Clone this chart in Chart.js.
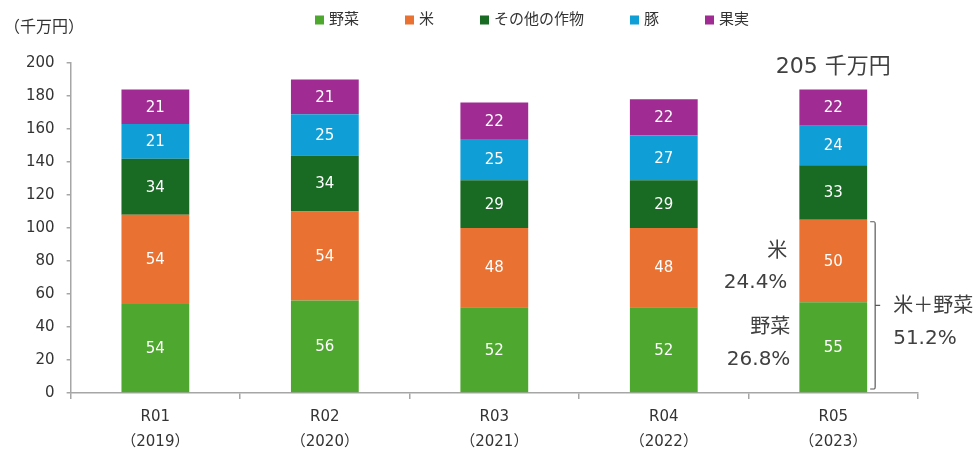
<!DOCTYPE html>
<html>
<head>
<meta charset="utf-8">
<script src="https://cdn.jsdelivr.net/npm/chart.js@4"></script>
<style>
  body { margin: 0; background: #fff; }
  #wrap { width: 975px; height: 450px; }
</style>
</head>
<body>
<div id="wrap"><canvas id="crops"></canvas></div>
<script>
const FONT = "'DejaVu Sans', 'Noto Sans CJK JP', sans-serif";

const categories = [["R01", "（2019）"], ["R02", "（2020）"], ["R03", "（2021）"], ["R04", "（2022）"], ["R05", "（2023）"]];
const vegetables = [54, 56, 52, 52, 55];
const rice = [54, 54, 48, 48, 50];
const otherCrops = [34, 34, 29, 29, 33];
const pork = [21, 25, 25, 27, 24];
const fruit = [21, 21, 22, 22, 22];

const seriesNames = ["野菜", "米", "その他の作物", "豚", "果実"];
const seriesColors = ["#4EA72E", "#E97132", "#196B24", "#0F9ED5", "#A02B93"];
const seriesValues = [vegetables, rice, otherCrops, pork, fruit];

// legend row at the top (drawn by hand so it sits close to the edge)
const topLegend = {
  id: "topLegend",
  afterDraw(chart) {
    const c = chart.ctx;
    c.save();
    c.font = "15px " + FONT;
    c.textBaseline = "middle";
    const box = 9, gap = 46, y = 20;
    const items = chart.data.datasets.map(ds => ({
      ds, w: box + 5 + c.measureText(ds.label).width
    }));
    let total = items.reduce((s, it) => s + it.w, 0) + gap * (items.length - 1);
    let x = 532 - total / 2;
    items.forEach(it => {
      c.fillStyle = it.ds.backgroundColor;
      c.fillRect(x, y - box / 2, box, box);
      c.fillStyle = "#333";
      c.fillText(it.ds.label, x + box + 5, y);
      x += it.w + gap;
    });
    c.restore();
  }
};

// white numbers inside each segment
const segmentLabels = {
  id: "segmentLabels",
  afterDatasetsDraw(chart) {
    const c = chart.ctx;
    c.save();
    c.fillStyle = "#fff";
    c.font = "15px " + FONT;
    c.textAlign = "center";
    c.textBaseline = "middle";
    chart.data.datasets.forEach((ds, i) => {
      chart.getDatasetMeta(i).data.forEach((bar, j) => {
        const mid = (bar.y + bar.base) / 2;
        c.fillText(ds.data[j], bar.x, mid + 1);
      });
    });
    c.restore();
  }
};

// unit, total and share notes
const notes = {
  id: "notes",
  afterDraw(chart) {
    const c = chart.ctx;
    const y = chart.scales.y;
    const last = categories.length - 1;
    const bar = chart.getDatasetMeta(0).data[last];
    const half = bar.width / 2;
    c.save();
    c.fillStyle = "#333";
    c.font = "16px " + FONT;
    c.textAlign = "left";
    c.textBaseline = "middle";
    c.fillText("（千万円）", 4, 28);

    c.fillStyle = "#404040";
    c.font = "22px " + FONT;
    c.textAlign = "center";
    c.fillText("205 千万円", bar.x, 67);

    c.font = "20px " + FONT;
    c.textAlign = "right";
    const lx = bar.x - half - 9;
    c.fillText("米", lx - 3, 252);
    c.fillText("24.4%", lx - 3, 283);
    c.fillText("野菜", lx, 328);
    c.fillText("26.8%", lx, 360);

    // bracket
    const top = y.getPixelForValue(vegetables[last] + rice[last]) + 2;
    const bottom = y.getPixelForValue(0) - 4;
    const bx = bar.x + half + 8;
    const midY = (top + bottom) / 2;
    c.strokeStyle = "#595959";
    c.lineWidth = 1.2;
    c.beginPath();
    c.moveTo(bx - 5, top);
    c.lineTo(bx - 1, top);
    c.quadraticCurveTo(bx, top, bx, top + 2);
    c.lineTo(bx, bottom - 2);
    c.quadraticCurveTo(bx, bottom, bx - 1, bottom);
    c.lineTo(bx - 5, bottom);
    c.moveTo(bx, midY);
    c.lineTo(bx + 5, midY);
    c.stroke();

    c.textAlign = "left";
    c.fillText("米＋野菜", bx + 18, midY + 1);
    c.fillText("51.2%", bx + 18, midY + 33);
    c.restore();
  }
};

new Chart(document.getElementById("crops"), {
  type: "bar",
  data: {
    labels: categories,
    datasets: seriesNames.map((name, i) => ({
      label: name,
      data: seriesValues[i],
      backgroundColor: seriesColors[i],
      borderWidth: 0,
      barPercentage: 0.4,
      categoryPercentage: 1,
    })),
  },
  options: {
    responsive: true,
    maintainAspectRatio: false,
    animation: false,
    layout: { padding: { left: 14, right: 57, top: 63, bottom: -10 } },
    plugins: {
      legend: { display: false },
      tooltip: { enabled: false },
    },
    scales: {
      x: {
        stacked: true,
        border: { color: "#a6a6a6", width: 1.5 },
        grid: { drawOnChartArea: false, color: "#a6a6a6", lineWidth: 1.5, tickLength: 6 },
        ticks: { color: "#333", font: { size: 15, family: FONT, lineHeight: 1.7 }, padding: 5 },
      },
      y: {
        stacked: true,
        min: 0,
        max: 200,
        border: { color: "#a6a6a6", width: 1.5 },
        grid: { drawOnChartArea: false, color: "#a6a6a6", lineWidth: 1.5, tickLength: 4 },
        ticks: { stepSize: 20, color: "#333", font: { size: 15, family: FONT }, padding: 12 },
      },
    },
  },
  plugins: [segmentLabels, notes, topLegend],
});
</script>
</body>
</html>
